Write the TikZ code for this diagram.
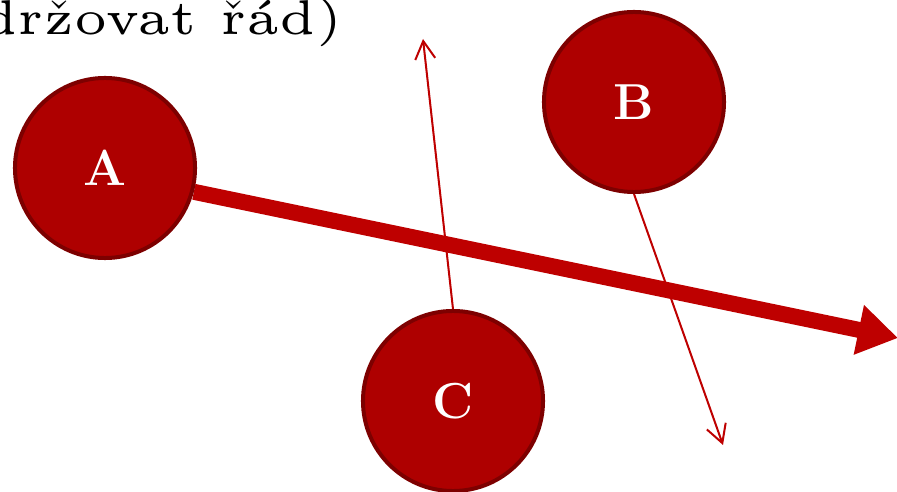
\documentclass[tikz,border=0pt]{standalone}
\usepackage{tikz}
\usetikzlibrary{arrows.meta, backgrounds}

\definecolor{ballfill}{RGB}{174,0,0}
\definecolor{balledge}{RGB}{125,0,0}
\definecolor{pathred}{RGB}{190,0,0}

\begin{document}
\begin{tikzpicture}[x=0.025cm, y=-0.025cm,
    ball/.style={circle, fill=ballfill, draw=balledge, line width=1mm, minimum size=4.5cm, inner sep=0pt,
      text=white, font=\fontsize{36}{40}\selectfont\bfseries},
    bigarr/.style={-{Triangle[length=1cm, width=1.2cm]}, line width=4mm, draw=pathred},
    thinarr/.style={-{Straight Barb[length=4.5mm, width=5mm]}, line width=0.5mm, draw=pathred}]
    \useasboundingbox (0,0) rectangle (897,492);

    % heading, cut off on the left as in the slide
    \node[anchor=base east, inner sep=0pt, scale=6.95, font=\fontsize{5}{6}\selectfont] (motto) at (345,35) {(udržovat řád)};

    \node[ball] (A) at (105,168) {A};
    \node[ball] (B) at (634,102) {B};
    \node[ball] (C) at (453,401) {C};

    % where the moves end
    \coordinate (aim A) at (898,338);
    \coordinate (aim B) at (723,445);
    \coordinate (aim C) at (423,39);

    \begin{pgfonlayer}{background}
      \draw[bigarr] (A.-15) -- (aim A);
      \draw[thinarr] (B.south) -- (aim B);
      \draw[thinarr] (C.north) -- (aim C);
    \end{pgfonlayer}
\end{tikzpicture}
\end{document}
